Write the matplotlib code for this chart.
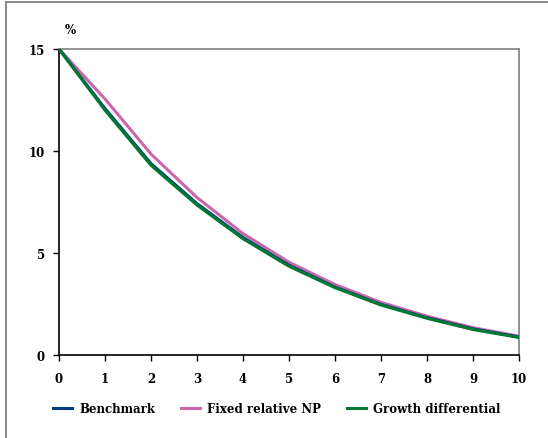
import matplotlib
matplotlib.use("Agg")
import matplotlib.pyplot as plt
from matplotlib.lines import Line2D

years = [0, 1, 2, 3, 4, 5, 6, 7, 8, 9, 10]
benchmark = [15.0, 12.08, 9.38, 7.42, 5.76, 4.40, 3.33, 2.48, 1.83, 1.28, 0.88]
fixed_np = [15.0, 12.55, 9.85, 7.72, 5.95, 4.55, 3.45, 2.58, 1.90, 1.34, 0.92]
growth_diff = [15.0, 12.0, 9.30, 7.35, 5.70, 4.35, 3.30, 2.45, 1.80, 1.25, 0.86]

x_ticks = [0, 1, 2, 3, 4, 5, 6, 7, 8, 9, 10]
y_ticks = [0, 5, 10, 15]

c_bench = "#003C7E"
c_fixed = "#CC66AA"
c_growth = "#007A33"

plt.rcParams['font.family'] = ['DejaVu Serif']
plt.rcParams['font.weight'] = 'bold'

W, H = 548, 439
fig = plt.figure(figsize=(W / 100, H / 100), dpi=100)
ax = fig.add_axes([59 / W, 1 - 356 / H, (519 - 59) / W, (356 - 50) / H])

ax.plot(years, benchmark, color=c_bench, lw=2.2, label="Benchmark", zorder=3)
ax.plot(years, fixed_np, color=c_fixed, lw=2.2, label="Fixed relative NP", zorder=2)
ax.plot(years, growth_diff, color=c_growth, lw=2.2, label="Growth differential", zorder=4)

ax.set_xlim(0, 10)
ax.set_ylim(0, 15)
ax.set_xticks(x_ticks)
ax.set_yticks(y_ticks)
ax.tick_params(axis='both', direction='out', length=4, width=1, labelsize=8.5, pad=4)
for lab in ax.get_xticklabels() + ax.get_yticklabels():
    lab.set_fontweight('bold')
ax.tick_params(axis='x', pad=8)
ax.tick_params(axis='y', pad=6)

ax.spines['left'].set_color('black')
ax.spines['bottom'].set_color('black')
ax.spines['left'].set_linewidth(1.2)
ax.spines['bottom'].set_linewidth(1.2)
ax.spines['top'].set_color('#808080')
ax.spines['right'].set_color('#808080')
ax.spines['top'].set_linewidth(1.2)
ax.spines['right'].set_linewidth(1.2)

fig.text(70 / W, 1 - 30 / H, "%", fontsize=8.5, fontweight='bold', ha='center', va='center')

leg = fig.legend(loc='center', bbox_to_anchor=(277 / W, 1 - 410 / H), ncol=3,
                 frameon=False, fontsize=8.5, handlelength=1.6, handletextpad=0.6,
                 columnspacing=2.2, prop={'weight': 'bold', 'size': 8.5})
for l in leg.get_lines():
    l.set_linewidth(2.2)

# figure border (left and top edges visible)
fig.add_artist(Line2D([6 / W, 6 / W], [-0.1, 1 - 3 / H], transform=fig.transFigure,
                      color='#808080', lw=1.3))
fig.add_artist(Line2D([6 / W, 1.1], [1 - 3 / H, 1 - 3 / H], transform=fig.transFigure,
                      color='#808080', lw=1.3))

fig.savefig("out.png", dpi=100)
